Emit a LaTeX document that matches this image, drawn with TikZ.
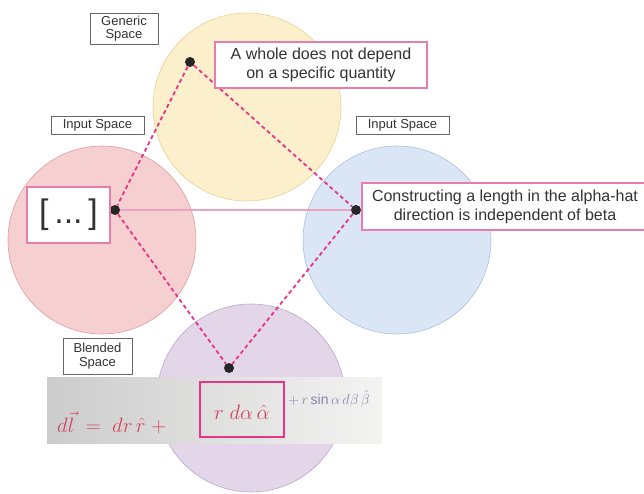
\documentclass[tikz,border=0pt]{standalone}
\usepackage{fontspec}
\setmainfont{Liberation Sans}
\usepackage{amsmath}
\usetikzlibrary{positioning,calc}
\definecolor{genfill}{HTML}{FCEFCB}
\definecolor{gendraw}{HTML}{E8D08F}
\definecolor{redfill}{HTML}{F6D0D0}
\definecolor{reddraw}{HTML}{DE9C9C}
\definecolor{bluefill}{HTML}{DAE6F5}
\definecolor{bluedraw}{HTML}{A8C0E2}
\definecolor{purpfill}{HTML}{E2D6E8}
\definecolor{purpdraw}{HTML}{BDA6CB}
\definecolor{linkc}{HTML}{E8338A}
\definecolor{bridgec}{HTML}{F0A0C0}
\definecolor{notepink}{HTML}{E67DAA}
\definecolor{tagline}{HTML}{666666}
\definecolor{txt}{HTML}{333333}
\definecolor{ink}{HTML}{D0465C}
\definecolor{pencil}{HTML}{8C82A8}

\begin{document}
\begin{tikzpicture}[x=1pt,y=-1pt,font=\fontsize{16}{19}\selectfont,text=txt,
   space/.style={circle,minimum size=188pt,inner sep=0pt,line width=0.6pt},
   tag/.style={draw=tagline,fill=white,align=center,line width=0.7pt,
               font=\fontsize{13}{13.5}\selectfont,inner sep=0pt},
   note/.style={draw=notepink,fill=white,line width=1.1pt,align=center,inner sep=0pt},
   dot/.style={circle,fill=black!85,inner sep=0pt,minimum size=10pt},
   link/.style={draw=linkc,line width=1.8pt,dash pattern=on 4pt off 3pt},
   bridge/.style={draw=bridgec,line width=1.2pt},
   hand/.style={inner sep=0pt,text=ink,font=\fontsize{22}{24}\selectfont}]
\useasboundingbox (0,0) rectangle (644,493);
% the four spaces
\node[space,fill=genfill,draw=gendraw] (generic) at (247,107) {};
\node[space,fill=redfill,draw=reddraw] (inleft) at (102,240) {};
\node[space,fill=bluefill,draw=bluedraw] (inright) at (397,240) {};
\node[space,fill=purpfill,draw=purpdraw] (blend) at (251,398) {};
% space labels
\node[tag,minimum width=68pt,minimum height=31pt] (gtag) at (124,28.5) {Generic\\Space};
\node[tag,minimum width=93pt,minimum height=18pt] (ltag) at (97.5,125) {Input Space};
\node[tag,minimum width=93pt,minimum height=18pt] (rtag) at (402.5,125) {Input Space};
\node[tag,minimum width=69pt,minimum height=36pt] (btag) at (97.5,356) {Blended\\Space};
% anchor points
\node[dot] (gdot) at (190,62) {};
\node[dot] (ldot) at (115,210) {};
\node[dot] (rdot) at (356,210) {};
\node[dot] (bdot) at (229,368) {};
\draw[bridge] (ldot) -- (rdot);
\draw[link] (gdot) -- (ldot);
\draw[link] (gdot) -- (rdot);
\draw[link] (ldot) -- (bdot);
\draw[link] (rdot) -- (bdot);
% notes
\node[note,minimum width=212pt,minimum height=46pt] (whole) at (321,65)
   {A whole does not depend\\on a specific quantity};
\node[note,minimum width=83pt,minimum height=56pt] (dots) at (68.5,215)
   {\fontsize{34}{36}\selectfont [\,...\,]};
\node[note,minimum width=286pt,minimum height=47pt] (alpha) at (505,206.5)
   {Constructing a length in the alpha-hat\\direction is independent of beta};
% photo of the formula
\shade[left color=black!20,right color=yellow!6!black!5] (47,377) rectangle (382,443);
\node[hand,anchor=base west] (lhs) at (57,432) {$d\vec{l}\;=\;dr\,\hat{r}\;+$};
\node[hand] (mid) at (242,412) {$r\;d\alpha\,\hat{\alpha}$};
\node[hand,anchor=base west,text=pencil,font=\fontsize{14}{16}\selectfont] (tail) at (288,404)
   {$+\,r\sin\alpha\,d\beta\,\hat{\beta}$};
\draw[draw=linkc,line width=1.6pt] (200,382) rectangle (284,437);
\end{tikzpicture}
\end{document}
